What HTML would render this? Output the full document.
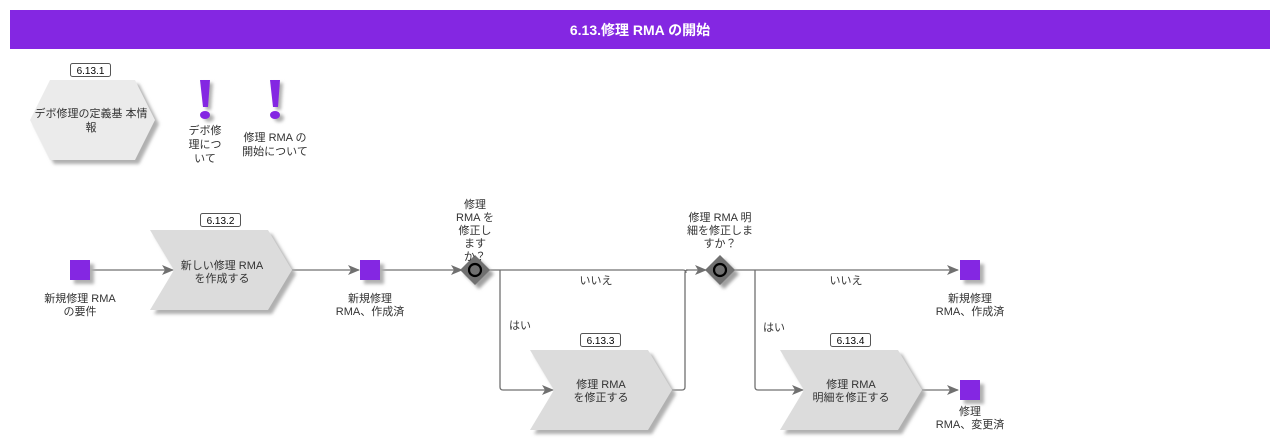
<!DOCTYPE html>
<html><head><meta charset="utf-8"><style>
html,body{margin:0;padding:0;background:#fff;}
svg{display:block;}
text{font-family:"Liberation Sans","Noto Sans CJK JP",sans-serif;font-size:11px;fill:#333;}
</style></head><body>
<svg width="1280" height="441" viewBox="0 0 1280 441" xmlns="http://www.w3.org/2000/svg">
<defs>
<filter id="sh" x="-20%" y="-20%" width="150%" height="150%"><feGaussianBlur stdDeviation="1.5"/></filter>
<marker id="ar" markerWidth="12" markerHeight="10" refX="11" refY="5" orient="auto" markerUnits="userSpaceOnUse"><path d="M0,0 L12,5 L0,10 L3,5 z" fill="#707070"/></marker>
</defs>
<rect x="10" y="10" width="1260" height="39" fill="#8427e2"/>
<text x="640" y="35" text-anchor="middle" style="font-size:14px;font-weight:bold;fill:#fff">6.13.修理 RMA の開始</text>

<!-- hexagon -->
<polygon points="34,124 54,84 139,84 159,124 139,164 54,164" fill="#b0b0b0" filter="url(#sh)"/>
<polygon points="30,120 50,80 135,80 155,120 135,160 50,160" fill="#ebebeb"/>
<rect x="70.5" y="63.5" width="40" height="13" rx="2" fill="#fff" stroke="#555"/>
<text x="90.5" y="74" text-anchor="middle" style="font-size:10px;fill:#000">6.13.1</text>
<text x="91" y="117" text-anchor="middle">デボ修理の定義基 本情</text>
<text x="91" y="131" text-anchor="middle">報</text>

<!-- exclamations -->
<g fill="#b0b0b0" filter="url(#sh)"><polygon points="203,83 213,83 211,110 206,110"/><ellipse cx="209" cy="118" rx="5" ry="4"/><polygon points="273,83 283,83 281,110 276,110"/><ellipse cx="279" cy="118" rx="5" ry="4"/></g>
<g fill="#8427e2"><polygon points="200,80 210,80 208,107 203,107"/><ellipse cx="205" cy="115" rx="5" ry="4"/><polygon points="270,80 280,80 278,107 273,107"/><ellipse cx="275" cy="115" rx="5" ry="4"/></g>
<text x="205" y="134" text-anchor="middle">デボ修</text>
<text x="205" y="148" text-anchor="middle">理につ</text>
<text x="205" y="162" text-anchor="middle">いて</text>
<text x="275" y="141" text-anchor="middle">修理 RMA の</text>
<text x="275" y="155" text-anchor="middle">開始について</text>

<!-- connectors -->
<g stroke="#707070" stroke-width="1.3" fill="none">
<line x1="90" y1="270" x2="173" y2="270" marker-end="url(#ar)"/>
<line x1="292" y1="270" x2="359" y2="270" marker-end="url(#ar)"/>
<line x1="380" y1="270" x2="462" y2="270" marker-end="url(#ar)"/>
<path d="M489,270 H683 Q686,270 686,273"/>
<line x1="686" y1="270" x2="706" y2="270" marker-end="url(#ar)"/>
<path d="M500,270 V387 Q500,390 503,390 H553" marker-end="url(#ar)"/>
<path d="M672,390 H682 Q685,390 685,387 V273 Q685,270 688,270"/>
<line x1="734" y1="270" x2="958" y2="270" marker-end="url(#ar)"/>
<path d="M755,270 V387 Q755,390 758,390 H803" marker-end="url(#ar)"/>
<line x1="922" y1="390" x2="958" y2="390" marker-end="url(#ar)"/>
</g>
<text x="596" y="284" text-anchor="middle">いいえ</text>
<text x="520" y="329" text-anchor="middle">はい</text>
<text x="846" y="284" text-anchor="middle">いいえ</text>
<text x="774" y="331" text-anchor="middle">はい</text>

<!-- squares -->
<g fill="#b0b0b0" filter="url(#sh)">
<rect x="74" y="264" width="20" height="20"/><rect x="364" y="264" width="20" height="20"/>
<rect x="964" y="264" width="20" height="20"/><rect x="964" y="384" width="20" height="20"/>
</g>
<g fill="#8427e2">
<rect x="70" y="260" width="20" height="20"/><rect x="360" y="260" width="20" height="20"/>
<rect x="960" y="260" width="20" height="20"/><rect x="960" y="380" width="20" height="20"/>
</g>
<text x="80" y="302" text-anchor="middle">新規修理 RMA</text>
<text x="80" y="315" text-anchor="middle">の要件</text>
<text x="370" y="302" text-anchor="middle">新規修理</text>
<text x="370" y="315" text-anchor="middle">RMA、作成済</text>
<text x="970" y="302" text-anchor="middle">新規修理</text>
<text x="970" y="315" text-anchor="middle">RMA、作成済</text>
<text x="970" y="415" text-anchor="middle">修理</text>
<text x="970" y="428" text-anchor="middle">RMA、変更済</text>

<!-- chevrons -->
<g fill="#b0b0b0" filter="url(#sh)">
<polygon points="154,234 272,234 296,274 272,314 154,314 178,274"/>
<polygon points="534,354 652,354 676,394 652,434 534,434 558,394"/>
<polygon points="784,354 902,354 926,394 902,434 784,434 808,394"/>
</g>
<g fill="#dcdcdc">
<polygon points="150,230 268,230 292,270 268,310 150,310 174,270"/>
<polygon points="530,350 648,350 672,390 648,430 530,430 554,390"/>
<polygon points="780,350 898,350 922,390 898,430 780,430 804,390"/>
</g>
<g fill="#fff" stroke="#555">
<rect x="200.5" y="213.5" width="40" height="13" rx="2"/>
<rect x="580.5" y="333.5" width="40" height="13" rx="2"/>
<rect x="830.5" y="333.5" width="40" height="13" rx="2"/>
</g>
<text x="220.5" y="224" text-anchor="middle" style="font-size:10px;fill:#000">6.13.2</text>
<text x="600.5" y="344" text-anchor="middle" style="font-size:10px;fill:#000">6.13.3</text>
<text x="850.5" y="344" text-anchor="middle" style="font-size:10px;fill:#000">6.13.4</text>
<text x="222" y="269" text-anchor="middle">新しい修理 RMA</text>
<text x="222" y="282" text-anchor="middle">を作成する</text>
<text x="601" y="388" text-anchor="middle">修理 RMA</text>
<text x="601" y="401" text-anchor="middle">を修正する</text>
<text x="851" y="388" text-anchor="middle">修理 RMA</text>
<text x="851" y="401" text-anchor="middle">明細を修正する</text>

<!-- gateways -->
<g fill="#a0a0a0" filter="url(#sh)">
<polygon points="479,259 494,274 479,289 464,274"/>
<polygon points="724,259 739,274 724,289 709,274"/>
</g>
<g fill="#707070">
<polygon points="475,255 490,270 475,285 460,270"/>
<polygon points="720,255 735,270 720,285 705,270"/>
</g>
<circle cx="475" cy="270" r="6" fill="none" stroke="#000" stroke-width="2.2"/>
<circle cx="720" cy="270" r="6" fill="none" stroke="#000" stroke-width="2.2"/>
<text x="475" y="208" text-anchor="middle">修理</text>
<text x="475" y="221" text-anchor="middle">RMA を</text>
<text x="475" y="234" text-anchor="middle">修正し</text>
<text x="475" y="247" text-anchor="middle">ます</text>
<text x="475" y="260" text-anchor="middle">か？</text>
<text x="720" y="221" text-anchor="middle">修理 RMA 明</text>
<text x="720" y="234" text-anchor="middle">細を修正しま</text>
<text x="720" y="247" text-anchor="middle">すか？</text>
</svg>
</body></html>
